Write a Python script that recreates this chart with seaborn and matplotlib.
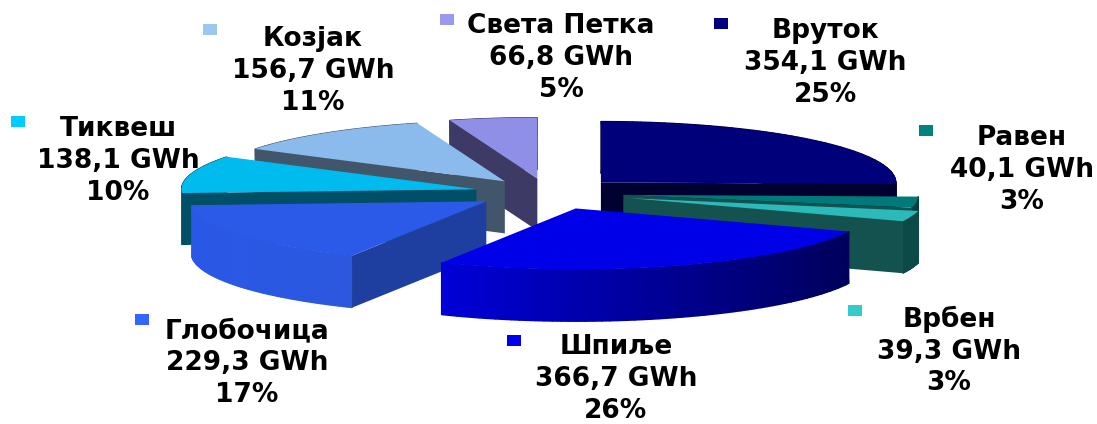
import numpy as np
import matplotlib
matplotlib.use("Agg")
import matplotlib.pyplot as plt
from matplotlib.patches import Rectangle
import seaborn as sns

names = ["Вруток", "Равен", "Врбен", "Шпиље", "Глобочица", "Тиквеш", "Козјак", "Света Петка"]
energy = [354.1, 40.1, 39.3, 366.7, 229.3, 138.1, 156.7, 66.8]
energy_labels = ["354,1 GWh", "40,1 GWh", "39,3 GWh", "366,7 GWh", "229,3 GWh", "138,1 GWh", "156,7 GWh", "66,8 GWh"]
percent_labels = ["25%", "3%", "3%", "26%", "17%", "10%", "11%", "5%"]

explode = [0.25, 0.257, 0.29, 0.27, 0.25, 0.25, 0.24, 0.24]
top_colors = ["#00007a", "#007a78", "#2cb9b9", "#0000e8", "#2b5ae8", "#00bcee", "#8bbaec", "#8f8fe8"]
rim_left = ["#000030", "#003f3f", "#0c4a48", "#0000d8", "#2a58e6", "#0b5f70", "#42566b", "#3d3a66"]
rim_right = ["#000030", "#003f3f", "#0c4a48", "#00005c", "#2c58df", "#0b5f70", "#42566b", "#3d3a66"]
face_colors = ["#000030", "#14524f", "#14524f", None, "#1f3fa0", "#004f66", "#42566b", "#3d3a66"]
face_edge = ["end", "end", "end", None, "start", "start", "start", "start"]
key_colors = ["#000080", "#008080", "#33cccc", "#0000ee", "#3366ff", "#00ccff", "#9cc8f0", "#9999ee"]
# back to front
draw_order = [7, 6, 5, 4, 0, 1, 2, 3]

# label layout in pixels: text centre x, middle line y, key x, key y
label_x = [825, 1022, 949, 616, 247, 118, 313, 561]
label_y = [63, 170, 351, 379, 363, 161, 71, 58]
key_x = [714, 919, 848, 507, 135, 11, 203, 440]
key_y = [18, 125, 305, 335, 314, 116, 24, 14]

W, H = 1097, 424
CX, CY = 548, 193
RX, RY = 295, 61
DEPTH = 52 / RY

sns.set_theme(style="white")
fig, ax = plt.subplots(figsize=(W / 100, H / 100), dpi=100)
fig.subplots_adjust(0, 0, 1, 1)

wedges, _ = ax.pie(energy, explode=explode, colors=top_colors, startangle=90,
                   counterclock=False, wedgeprops={"linewidth": 0})

for rank, i in enumerate(draw_order):
    w = wedges[i]
    cx, cy = w.center
    # curved outer side, shaded left to right
    t = np.radians(np.linspace(w.theta1, w.theta2, 60))
    x = cx + np.cos(t)
    y = cy + np.sin(t)
    xx = np.vstack([x, x])
    yy = np.vstack([y, y - DEPTH])
    shade = (x - x.min()) / (x.max() - x.min())
    cmap = sns.blend_palette([rim_left[i], rim_right[i]], as_cmap=True)
    ax.pcolormesh(xx, yy, np.vstack([shade, shade]), cmap=cmap, vmin=0, vmax=1,
                  shading="gouraud", zorder=10 + rank * 3)
    # flat cut side
    if face_edge[i] is not None:
        a = np.radians(w.theta1 if face_edge[i] == "end" else w.theta2)
        ex, ey = cx + np.cos(a), cy + np.sin(a)
        ax.fill([cx, ex, ex, cx], [cy, ey, ey - DEPTH, cy - DEPTH],
                color=face_colors[i], lw=0, zorder=11 + rank * 3)
    w.set_zorder(12 + rank * 3)

ax.set_aspect("auto")
ax.set_xlim(-CX / RX, (W - CX) / RX)
ax.set_ylim((CY - H) / RY, CY / RY)
ax.axis("off")

for i, name in enumerate(names):
    fig.text(label_x[i] / W, 1 - label_y[i] / H,
             name + "\n" + energy_labels[i] + "\n" + percent_labels[i],
             ha="center", va="center", fontsize=19, fontweight="bold",
             family="DejaVu Sans", color="black", linespacing=1.29)
    fig.add_artist(Rectangle((key_x[i] / W, 1 - (key_y[i] + 11) / H), 14 / W, 11 / H,
                             transform=fig.transFigure, color=key_colors[i], lw=0))

fig.savefig("out.png", dpi=100, facecolor="white")
